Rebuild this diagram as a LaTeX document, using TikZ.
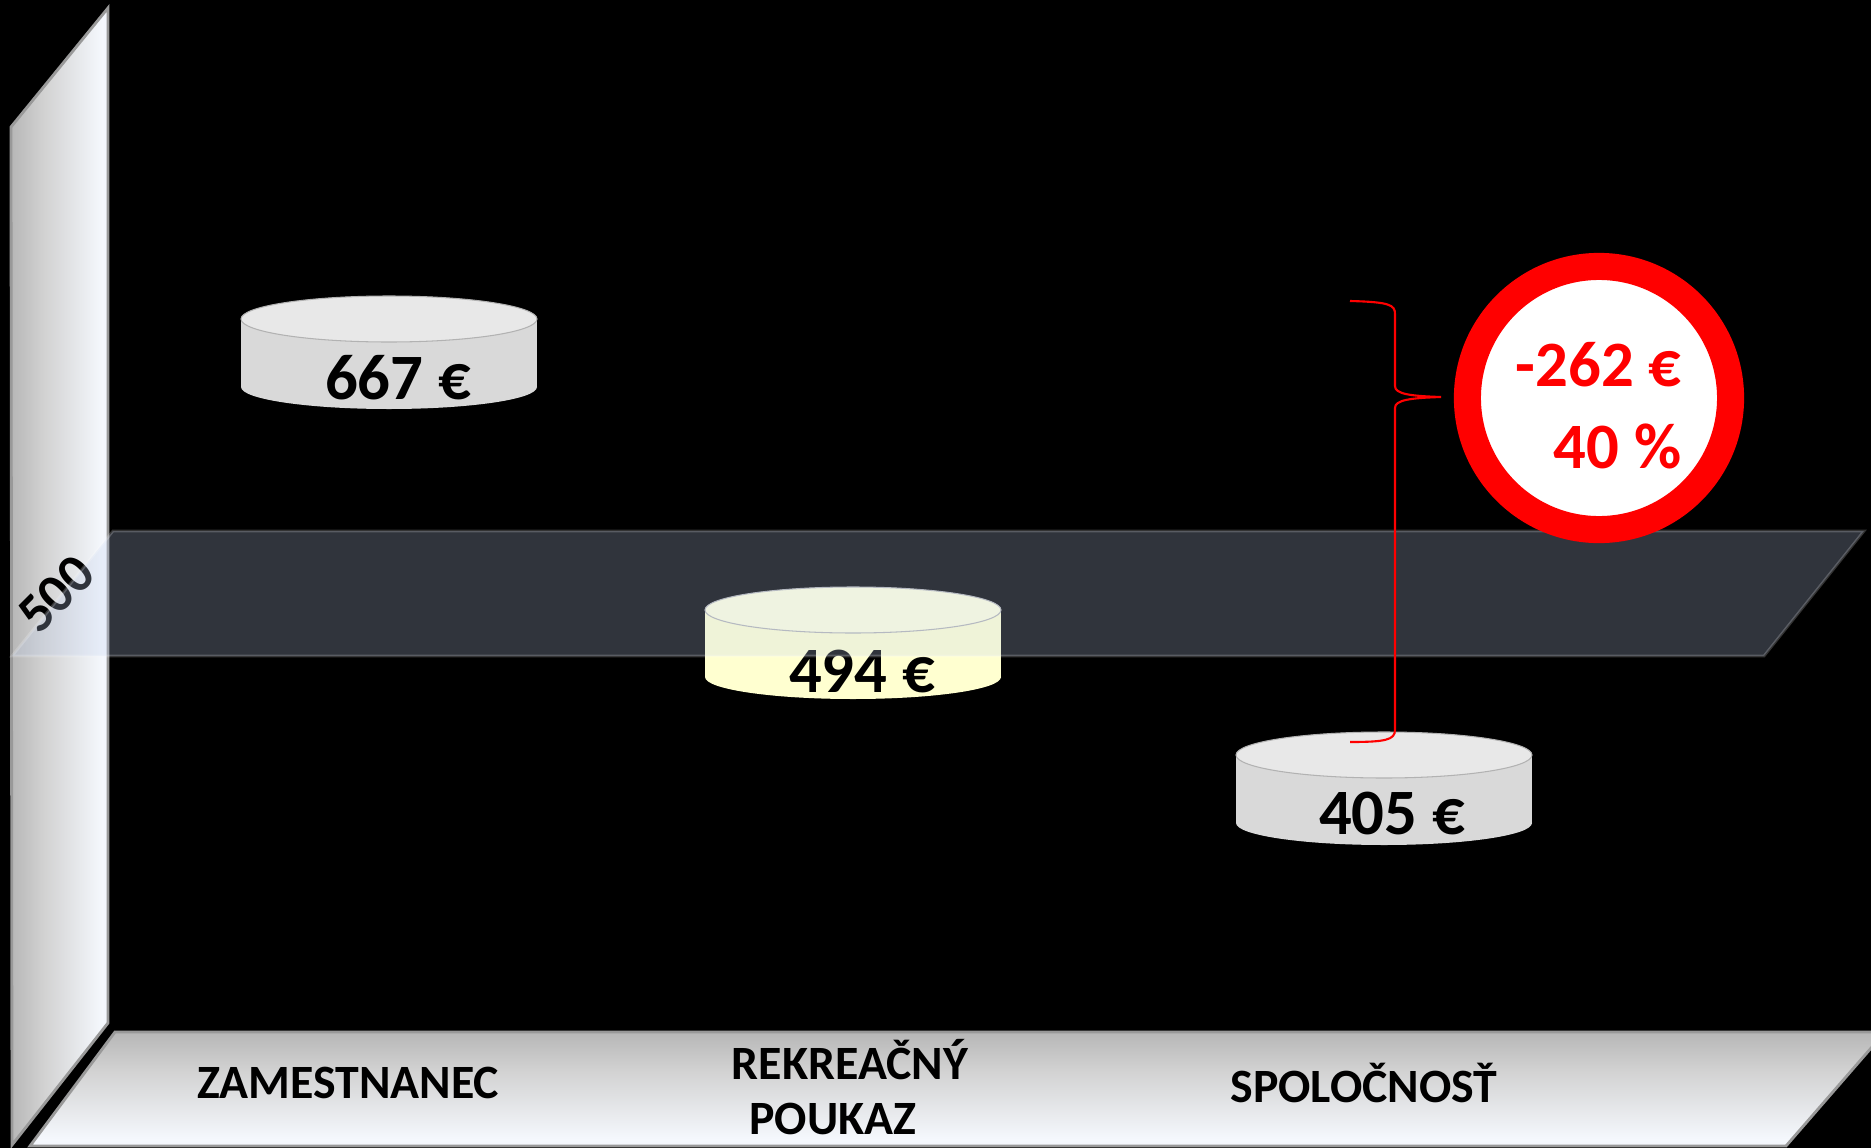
\documentclass[tikz,border=0pt]{standalone}
\usepackage{fontspec}
\setmainfont{Carlito}
\usetikzlibrary{positioning}
\definecolor{bandblue}{HTML}{C0D0F0}
\definecolor{cylgray}{HTML}{D9D9D9}
\definecolor{cyltop}{HTML}{E8E8E8}
\definecolor{cylyellow}{HTML}{FFFFD0}
\definecolor{cylyellowtop}{HTML}{FFFFDC}
\definecolor{brightred}{HTML}{FF0000}
\definecolor{wallleft}{HTML}{8E8E8E}
\definecolor{wallmid}{HTML}{D2D2D2}
\definecolor{walllight}{HTML}{F5F8FD}
\definecolor{wallright}{HTML}{DFE7F4}
\pgfdeclarehorizontalshading{wallshade}{100bp}{color(0bp)=(wallleft); color(42bp)=(wallmid); color(72bp)=(walllight); color(100bp)=(wallright)}
\pgfdeclareverticalshading{floorshade}{100bp}{color(0bp)=(wallright); color(28bp)=(walllight); color(58bp)=(wallmid); color(100bp)=(wallleft)}

\begin{document}
\begin{tikzpicture}[x=0.01cm, y=-0.01cm,
  cyltext/.style={font=\fontsize{18.4}{22}\selectfont\bfseries, text=black},
  axistext/.style={font=\fontsize{13.6}{16}\selectfont\bfseries, text=black},
  redtext/.style={font=\fontsize{18.4}{22}\selectfont\bfseries, text=brightred, inner sep=0pt}]
% Background
\fill[black] (0,0) rectangle (1871,1148);
\useasboundingbox (0,0) rectangle (1871,1148);

% Wall and floor
\shadedraw[shading=wallshade, draw=gray!80, line width=0.8pt] (11,127) -- (108,8) -- (108,1023) -- (12,1145) -- cycle;
\shadedraw[shading=floorshade, draw=gray!80, line width=0.8pt] (115,1032) -- (1885,1032) -- (1786,1146) -- (30,1146) -- cycle;

% Axis labels
\node[axistext] (zam) at (348,1083) {ZAMESTNANEC};
\node[axistext] (rek) at (850,1060) {REKREAČNÝ};
\node[axistext] (pou) at (833,1119) {POUKAZ};
\node[axistext] (spo) at (1364,1083) {SPOLOČNOSŤ};
\node[axistext, font=\fontsize{15.5}{18}\selectfont\bfseries, rotate=45] (five) at (56,594) {500};

% Cylinders
\fill[cylgray] (241,319) rectangle (537,387);
\fill[cylgray] (389,387) ellipse [x radius=148, y radius=22];
\filldraw[fill=cyltop, draw=gray!60, line width=0.3pt] (389,319) ellipse [x radius=148, y radius=23];
\node[cyltext] (zamval) at (398,378) {667 €};

\fill[cylyellow] (705,610) rectangle (1001,677);
\fill[cylyellow] (853,677) ellipse [x radius=148, y radius=22];
\filldraw[fill=cylyellowtop, draw=gray!60, line width=0.3pt] (853,610) ellipse [x radius=148, y radius=23];
\node[cyltext] (rekval) at (862,672) {494 €};

\fill[cylgray] (1236,755) rectangle (1532,823);
\fill[cylgray] (1384,823) ellipse [x radius=148, y radius=22];
\filldraw[fill=cyltop, draw=gray!60, line width=0.3pt] (1384,755) ellipse [x radius=148, y radius=23];
\node[cyltext] (spoval) at (1392,814) {405 €};

% 500 band
\fill[bandblue, fill opacity=0.25] (113,531) -- (1864,531) -- (1764,656) -- (12,656) -- cycle;
\draw[white, draw opacity=0.2, line width=0.8pt] (113,531) -- (1864,531) -- (1764,656) -- (12,656) -- cycle;

% Brace and difference
\draw[brightred, line width=0.6pt] (1350,301) .. controls (1390,302) and (1395,305) .. (1395,314) -- (1395,386) .. controls (1395,394) and (1410,396) .. (1441,397) .. controls (1410,398) and (1395,400) .. (1395,408) -- (1395,730) .. controls (1395,740) and (1385,742) .. (1350,742);
\node[circle, minimum size=2.63cm, inner sep=0pt, fill=white, draw=brightred, line width=7.7pt] (saving) at (1599,398) {};
\node[redtext, anchor=base east] (diff) at (1682,386) {-262 €};
\node[redtext, anchor=base east] (pct) at (1682,468) {40 \%};
\end{tikzpicture}
\end{document}
